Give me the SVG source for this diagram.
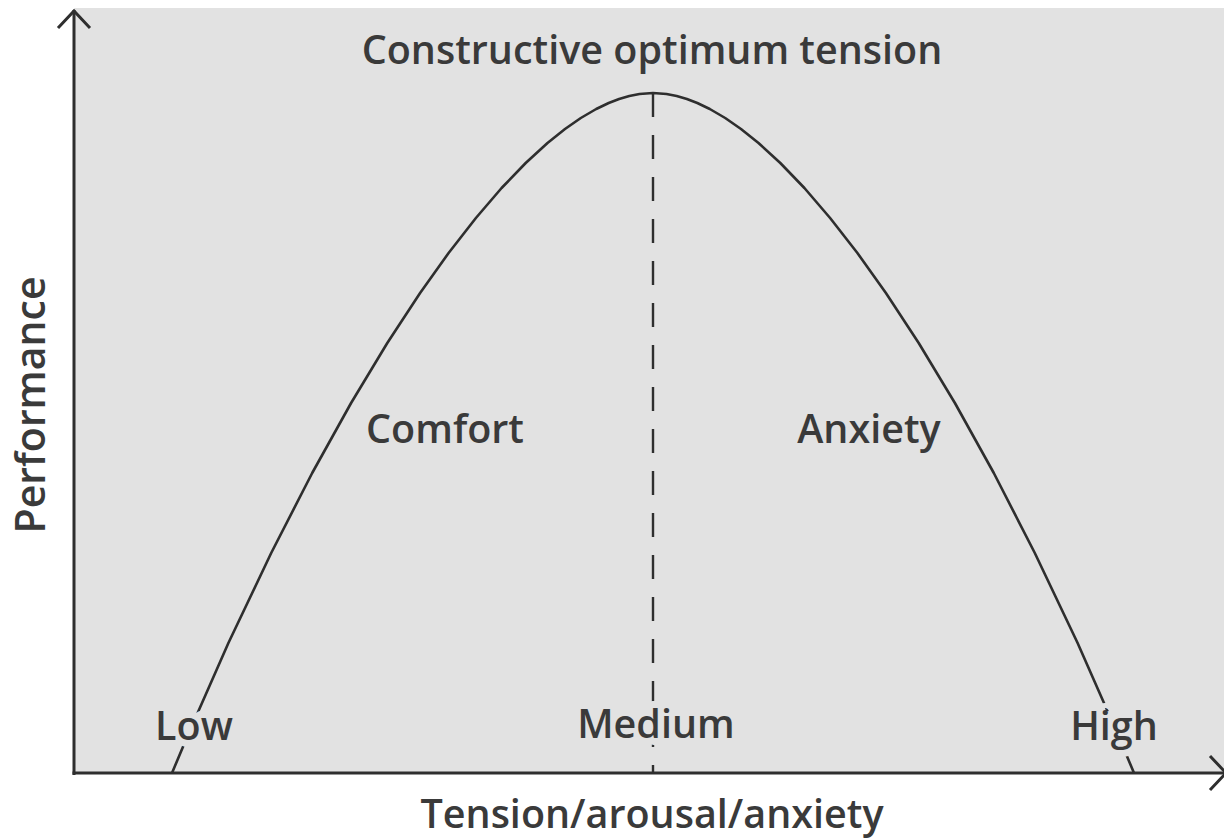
<svg xmlns="http://www.w3.org/2000/svg" width="1224" height="839" viewBox="0 0 1224 839">
<style>
.lbl{font-family:"Open Sans","Liberation Sans",sans-serif;font-weight:600;font-size:39.5px;fill:#3a3a3a;text-anchor:middle}
.halo{stroke:#e2e2e2;stroke-width:14px;paint-order:stroke;stroke-linejoin:round}
.ax{fill:none;stroke:#2e2e2e;stroke-width:3}
</style>
<rect width="1224" height="839" fill="#ffffff"/>
<rect id="plot-area" x="74" y="8" width="1150" height="765" fill="#e2e2e2"/>
<g id="connectors">
<path id="curve" fill="none" stroke="#2e2e2e" stroke-width="2.6" stroke-linejoin="round" d="M172,773 L188.8,733 L228.4,643 L271.2,553 L312.2,473 L351.1,403 L387.3,343 L420.1,293 L448.6,253 L475.9,218 L501.6,188 L525.7,163 L547.5,143 L565,129 L580.8,118 L596.2,109 L608.7,103 L619.1,99 L629.3,96 L639.5,94 L653,93 L666.5,94 L676.7,96 L686.9,99 L697.3,103 L709.8,109 L725.2,118 L741,129 L758.5,143 L780.3,163 L804.4,188 L830.1,218 L857.4,253 L885.9,293 L918.7,343 L954.9,403 L993.8,473 L1034.8,553 L1077.6,643 L1117.2,733 L1134,773"/>
<line id="optimum" x1="653" y1="93" x2="653" y2="773" stroke="#2e2e2e" stroke-width="2.4" stroke-dasharray="24 18"/>
</g>
<g id="axes">
<line class="ax" x1="74" y1="10" x2="74" y2="775"/>
<polyline class="ax" points="58,28 74,11 90,28"/>
<line class="ax" x1="72.5" y1="773" x2="1224" y2="773"/>
<polyline class="ax" points="1210,756 1226,773 1210,790"/>
</g>
<g id="title"><text class="lbl" x="652" y="64">Constructive optimum tension</text></g>
<g id="comfort"><text class="lbl" x="445" y="443">Comfort</text></g>
<g id="anxiety"><text class="lbl" x="869" y="443">Anxiety</text></g>
<g id="low"><text class="lbl halo" x="194" y="740">Low</text></g>
<g id="medium"><text class="lbl halo" x="656" y="738">Medium</text></g>
<g id="high"><text class="lbl halo" x="1114" y="740">High</text></g>
<g id="x-label"><text class="lbl" x="652" y="828">Tension/arousal/anxiety</text></g>
<g id="y-label"><text class="lbl" style="font-size:41px" transform="translate(45,405) rotate(-90)">Performance</text></g>
</svg>
